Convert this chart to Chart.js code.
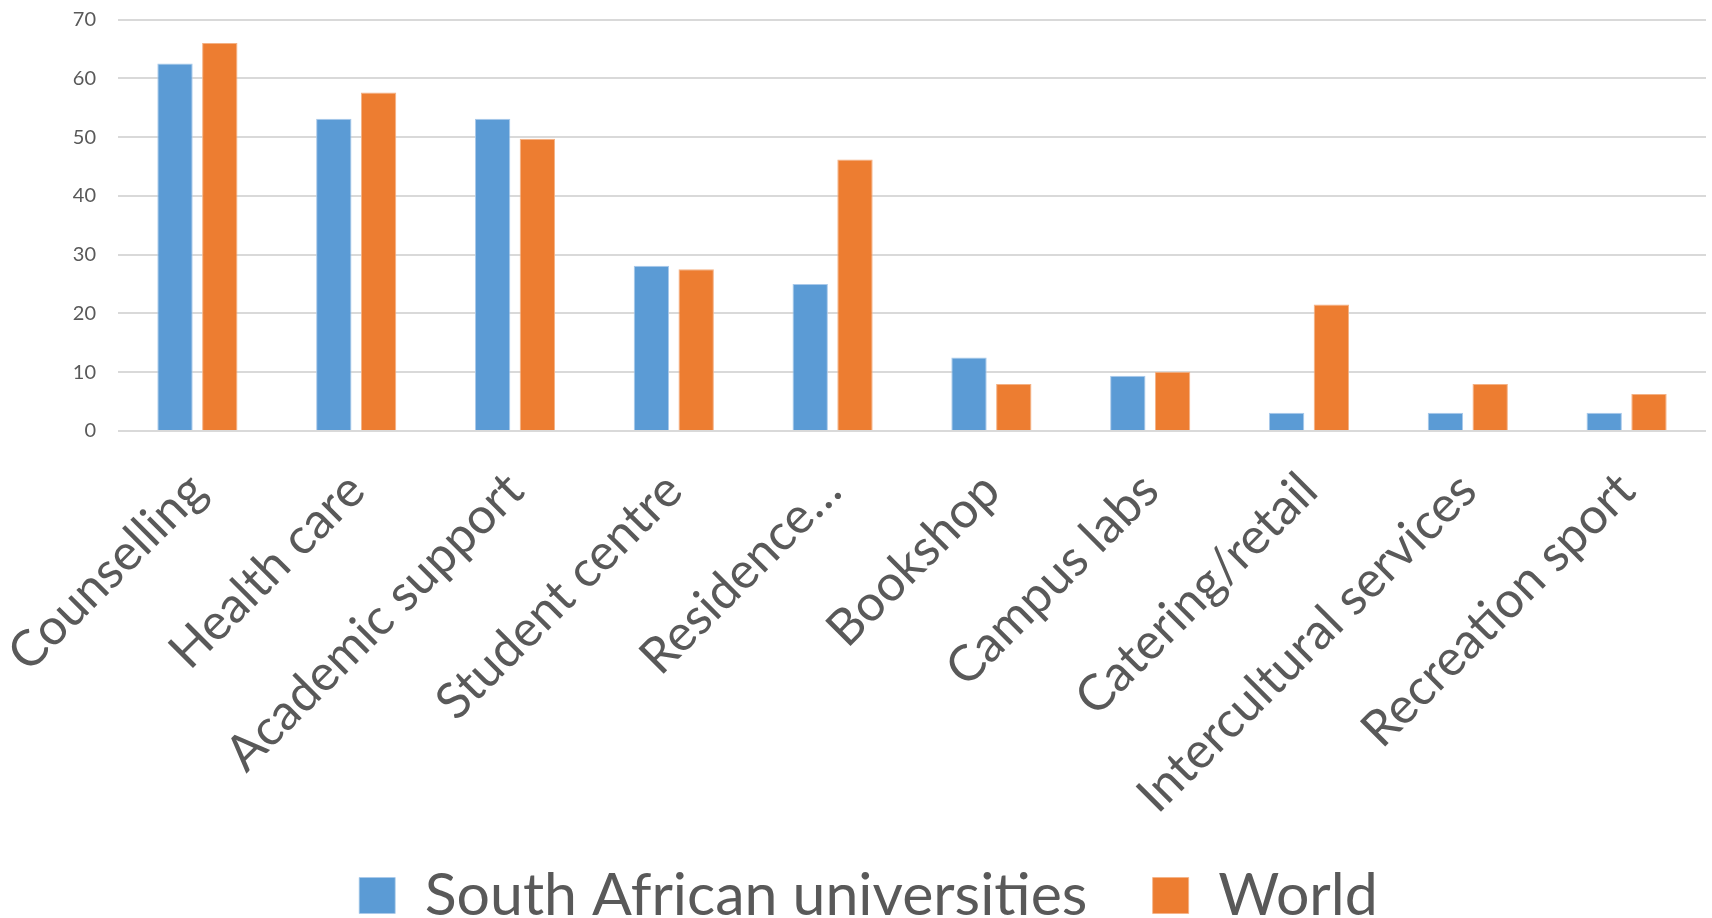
<!DOCTYPE html>
<html>
<head>
<meta charset="utf-8">
<script src="https://cdn.jsdelivr.net/npm/chart.js@4/dist/chart.umd.min.js"></script>
<style>
  html, body { margin: 0; padding: 0; background: #fff; }
  #wrap { width: 1712px; height: 918px; }
</style>
</head>
<body>
<div id="wrap"><canvas id="graf" width="1712" height="918"></canvas></div>
<script>
// categorie e valori (percentuali)
var categorie = ["Counselling", "Health care", "Academic support", "Student centre", "Residence\u2026",
                 "Bookshop", "Campus labs", "Catering/retail", "Intercultural services", "Recreation sport"];
var sudafrica = [62.5, 53.1, 53.1, 28.1, 25.0, 12.5, 9.4, 3.1, 3.1, 3.1];
var mondo     = [66.0, 57.6, 49.7, 27.5, 46.2, 8.0, 10.1, 21.5, 8.0, 6.3];
var tickY     = [0, 10, 20, 30, 40, 50, 60, 70];

var font = "Lato, 'Open Sans', sans-serif";
var grigio = "#595959";
var fondoAsse = 431;   // y dello zero
var cimaLegenda = 846; // inizio del box legenda

var grafico = new Chart("graf", {
    type: "bar",
    data: {
        labels: categorie,
        datasets: [{
            label: "South African universities",
            data: sudafrica,
            backgroundColor: "#5B9BD5",
            borderColor: "#A9C9EA",
            borderWidth: {top: 1, left: 1, right: 1, bottom: 0},
            categoryPercentage: 0.564,
            barPercentage: 0.79
        }, {
            label: "World",
            data: mondo,
            backgroundColor: "#ED7D31",
            borderColor: "#F4B184",
            borderWidth: {top: 1, left: 1, right: 1, bottom: 0},
            categoryPercentage: 0.564,
            barPercentage: 0.79
        }]
    },
    options: {
        responsive: false,
        animation: false,
        layout: {padding: {top: 19.5, right: 6, left: 31, bottom: -17}},
        plugins: {
            legend: {
                position: "bottom",
                labels: {
                    color: grigio,
                    font: {family: font, size: 59},
                    boxWidth: 36,
                    boxHeight: 36,
                    padding: 20,
                    generateLabels: function(chart) {
                        var items = Chart.defaults.plugins.legend.labels.generateLabels(chart);
                        // un po' di spazio in piu tra le due voci
                        items[0].text = items[0].text + "   ";
                        return items;
                    }
                }
            },
            tooltip: {enabled: false}
        },
        scales: {
            x: {
                grid: {display: false},
                border: {display: false},
                ticks: {
                    color: grigio,
                    font: {family: font, size: 50},
                    minRotation: 45,
                    maxRotation: 45,
                    autoSkip: false,
                    padding: 22
                },
                afterFit: function(scale) {
                    scale.height = cimaLegenda - fondoAsse;
                    scale.paddingLeft = 0;
                    scale.paddingRight = 0;
                }
            },
            y: {
                min: 0,
                max: 70,
                afterBuildTicks: function(scale) {
                    scale.ticks = tickY.map(function(v) { return {value: v}; });
                },
                afterFit: function(scale) {
                    scale.width = 87;
                    scale.paddingTop = 0;
                    scale.paddingBottom = 0;
                },
                grid: {color: "#D9D9D9", lineWidth: 2, drawTicks: false},
                border: {display: false},
                ticks: {
                    color: grigio,
                    font: {family: font, size: 20},
                    padding: 22
                }
            }
        }
    }
});
</script>
</body>
</html>
